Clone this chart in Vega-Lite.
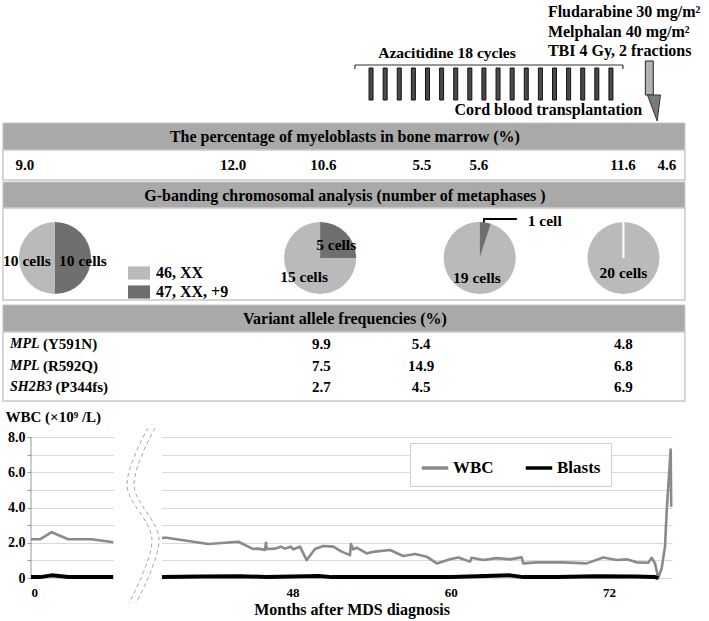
{
  "$schema": "https://vega.github.io/schema/vega-lite/v6.json",
  "width": 641,
  "height": 578,
  "autosize": {"type": "none"},
  "padding": {"left": 31, "top": 0, "right": 37, "bottom": 43},
  "background": "white",
  "config": {
    "view": {"stroke": null},
    "font": "Liberation Serif",
    "text": {"font": "Liberation Serif", "fontWeight": "bold", "color": "black"}
  },
  "datasets": {
    "cycles": [
      {"cycle": 1, "month": 53.96}, {"cycle": 2, "month": 55.03}, {"cycle": 3, "month": 56.1},
      {"cycle": 4, "month": 57.17}, {"cycle": 5, "month": 58.24}, {"cycle": 6, "month": 59.31},
      {"cycle": 7, "month": 60.38}, {"cycle": 8, "month": 61.45}, {"cycle": 9, "month": 62.52},
      {"cycle": 10, "month": 63.59}, {"cycle": 11, "month": 64.66}, {"cycle": 12, "month": 65.73},
      {"cycle": 13, "month": 66.8}, {"cycle": 14, "month": 67.87}, {"cycle": 15, "month": 68.94},
      {"cycle": 16, "month": 70.01}, {"cycle": 17, "month": 71.08}, {"cycle": 18, "month": 72.15}
    ],
    "myeloblasts": [
      {"month": -0.46, "pct": 9.0}, {"month": 43.5, "pct": 12.0}, {"month": 50.35, "pct": 10.6},
      {"month": 57.82, "pct": 5.5}, {"month": 62.14, "pct": 5.6}, {"month": 73.06, "pct": 11.6},
      {"month": 76.4, "pct": 4.6}
    ],
    "karyotype": [
      {"timepoint": 1, "month": 1.82, "genotype": "46, XX", "cells": 10, "label": "10 cells"},
      {"timepoint": 1, "month": 1.82, "genotype": "47, XX, +9", "cells": 10, "label": "10 cells"},
      {"timepoint": 2, "month": 50.1, "genotype": "46, XX", "cells": 15, "label": "15 cells"},
      {"timepoint": 2, "month": 50.1, "genotype": "47, XX, +9", "cells": 5, "label": "5 cells"},
      {"timepoint": 3, "month": 62.2, "genotype": "46, XX", "cells": 19, "label": "19 cells"},
      {"timepoint": 3, "month": 62.2, "genotype": "47, XX, +9", "cells": 1, "label": "1 cell"},
      {"timepoint": 4, "month": 73.1, "genotype": "46, XX", "cells": 20, "label": "20 cells"},
      {"timepoint": 4, "month": 73.1, "genotype": "47, XX, +9", "cells": 0, "label": ""}
    ],
    "variants": [
      {"variant": "MPL (Y591N)", "gene": "MPL", "change": "(Y591N)"},
      {"variant": "MPL (R592Q)", "gene": "MPL", "change": "(R592Q)"},
      {"variant": "SH2B3 (P344fs)", "gene": "SH2B3", "change": "(P344fs)"}
    ],
    "vaf": [
      {"variant": "MPL (Y591N)", "month": 50.2, "vaf": 9.9},
      {"variant": "MPL (Y591N)", "month": 57.75, "vaf": 5.4},
      {"variant": "MPL (Y591N)", "month": 73.1, "vaf": 4.8},
      {"variant": "MPL (R592Q)", "month": 50.2, "vaf": 7.5},
      {"variant": "MPL (R592Q)", "month": 57.75, "vaf": 14.9},
      {"variant": "MPL (R592Q)", "month": 73.1, "vaf": 6.8},
      {"variant": "SH2B3 (P344fs)", "month": 50.2, "vaf": 2.7},
      {"variant": "SH2B3 (P344fs)", "month": 57.75, "vaf": 4.5},
      {"variant": "SH2B3 (P344fs)", "month": 73.1, "vaf": 6.9}
    ],
    "counts": [
      {"series": "WBC", "seg": "early", "month": 0, "value": 2.2},
      {"series": "WBC", "seg": "early", "month": 0.68, "value": 2.2},
      {"series": "WBC", "seg": "early", "month": 1.57, "value": 2.6},
      {"series": "WBC", "seg": "early", "month": 2.83, "value": 2.2},
      {"series": "WBC", "seg": "early", "month": 4.6, "value": 2.2},
      {"series": "WBC", "seg": "early", "month": 6.24, "value": 2.03},
      {"series": "WBC", "seg": "late", "month": 38.1, "value": 2.29},
      {"series": "WBC", "seg": "late", "month": 38.47, "value": 2.29},
      {"series": "WBC", "seg": "late", "month": 41.62, "value": 1.93},
      {"series": "WBC", "seg": "late", "month": 43.9, "value": 2.06},
      {"series": "WBC", "seg": "late", "month": 45.0, "value": 1.65},
      {"series": "WBC", "seg": "late", "month": 45.41, "value": 1.67},
      {"series": "WBC", "seg": "late", "month": 45.92, "value": 1.59},
      {"series": "WBC", "seg": "late", "month": 45.99, "value": 2.0},
      {"series": "WBC", "seg": "late", "month": 46.05, "value": 1.65},
      {"series": "WBC", "seg": "late", "month": 46.68, "value": 1.67},
      {"series": "WBC", "seg": "late", "month": 47.11, "value": 1.78},
      {"series": "WBC", "seg": "late", "month": 47.44, "value": 1.67},
      {"series": "WBC", "seg": "late", "month": 47.87, "value": 1.78},
      {"series": "WBC", "seg": "late", "month": 48.06, "value": 1.63},
      {"series": "WBC", "seg": "late", "month": 48.57, "value": 1.78},
      {"series": "WBC", "seg": "late", "month": 49.08, "value": 1.02},
      {"series": "WBC", "seg": "late", "month": 49.71, "value": 1.65},
      {"series": "WBC", "seg": "late", "month": 50.34, "value": 1.82},
      {"series": "WBC", "seg": "late", "month": 51.1, "value": 1.78},
      {"series": "WBC", "seg": "late", "month": 51.73, "value": 1.5},
      {"series": "WBC", "seg": "late", "month": 52.36, "value": 1.3},
      {"series": "WBC", "seg": "late", "month": 52.44, "value": 1.93},
      {"series": "WBC", "seg": "late", "month": 52.61, "value": 1.63},
      {"series": "WBC", "seg": "late", "month": 52.87, "value": 1.72},
      {"series": "WBC", "seg": "late", "month": 53.63, "value": 1.4},
      {"series": "WBC", "seg": "late", "month": 54.26, "value": 1.5},
      {"series": "WBC", "seg": "late", "month": 55.4, "value": 1.59},
      {"series": "WBC", "seg": "late", "month": 56.4, "value": 1.25},
      {"series": "WBC", "seg": "late", "month": 57.29, "value": 1.36},
      {"series": "WBC", "seg": "late", "month": 58.18, "value": 1.21},
      {"series": "WBC", "seg": "late", "month": 58.94, "value": 0.83},
      {"series": "WBC", "seg": "late", "month": 59.95, "value": 1.06},
      {"series": "WBC", "seg": "late", "month": 60.58, "value": 1.17},
      {"series": "WBC", "seg": "late", "month": 61.46, "value": 0.93},
      {"series": "WBC", "seg": "late", "month": 61.59, "value": 1.15},
      {"series": "WBC", "seg": "late", "month": 62.47, "value": 1.02},
      {"series": "WBC", "seg": "late", "month": 63.49, "value": 1.13},
      {"series": "WBC", "seg": "late", "month": 64.49, "value": 1.06},
      {"series": "WBC", "seg": "late", "month": 65.38, "value": 1.17},
      {"series": "WBC", "seg": "late", "month": 65.5, "value": 0.83},
      {"series": "WBC", "seg": "late", "month": 66.52, "value": 0.89},
      {"series": "WBC", "seg": "late", "month": 68.54, "value": 0.89},
      {"series": "WBC", "seg": "late", "month": 70.31, "value": 0.83},
      {"series": "WBC", "seg": "late", "month": 71.57, "value": 1.17},
      {"series": "WBC", "seg": "late", "month": 72.59, "value": 1.02},
      {"series": "WBC", "seg": "late", "month": 73.35, "value": 1.06},
      {"series": "WBC", "seg": "late", "month": 74.1, "value": 0.89},
      {"series": "WBC", "seg": "late", "month": 74.98, "value": 0.87},
      {"series": "WBC", "seg": "late", "month": 75.24, "value": 1.15},
      {"series": "WBC", "seg": "late", "month": 75.49, "value": 0.83},
      {"series": "WBC", "seg": "late", "month": 75.74, "value": 0.0},
      {"series": "WBC", "seg": "late", "month": 76.0, "value": 0.57},
      {"series": "WBC", "seg": "late", "month": 76.25, "value": 1.78},
      {"series": "WBC", "seg": "late", "month": 76.38, "value": 3.86},
      {"series": "WBC", "seg": "late", "month": 76.68, "value": 7.3},
      {"series": "WBC", "seg": "late", "month": 76.72, "value": 4.05},
      {"series": "Blasts", "seg": "early", "month": 0, "value": 0.05},
      {"series": "Blasts", "seg": "early", "month": 0.68, "value": 0.05},
      {"series": "Blasts", "seg": "early", "month": 1.57, "value": 0.15},
      {"series": "Blasts", "seg": "early", "month": 2.83, "value": 0.06},
      {"series": "Blasts", "seg": "early", "month": 4.6, "value": 0.05},
      {"series": "Blasts", "seg": "early", "month": 6.24, "value": 0.05},
      {"series": "Blasts", "seg": "late", "month": 38.1, "value": 0.05},
      {"series": "Blasts", "seg": "late", "month": 41.0, "value": 0.08},
      {"series": "Blasts", "seg": "late", "month": 44.0, "value": 0.1},
      {"series": "Blasts", "seg": "late", "month": 46.0, "value": 0.06},
      {"series": "Blasts", "seg": "late", "month": 48.0, "value": 0.08},
      {"series": "Blasts", "seg": "late", "month": 50.0, "value": 0.12},
      {"series": "Blasts", "seg": "late", "month": 51.0, "value": 0.05},
      {"series": "Blasts", "seg": "late", "month": 54.0, "value": 0.05},
      {"series": "Blasts", "seg": "late", "month": 57.0, "value": 0.06},
      {"series": "Blasts", "seg": "late", "month": 60.0, "value": 0.05},
      {"series": "Blasts", "seg": "late", "month": 62.0, "value": 0.1},
      {"series": "Blasts", "seg": "late", "month": 64.5, "value": 0.15},
      {"series": "Blasts", "seg": "late", "month": 65.5, "value": 0.05},
      {"series": "Blasts", "seg": "late", "month": 68.0, "value": 0.06},
      {"series": "Blasts", "seg": "late", "month": 71.0, "value": 0.1},
      {"series": "Blasts", "seg": "late", "month": 74.0, "value": 0.08},
      {"series": "Blasts", "seg": "late", "month": 75.5, "value": 0.05},
      {"series": "Blasts", "seg": "late", "month": 75.74, "value": 0.0}
    ],
    "breakmarks": [
      {"curve": "a", "k": 1, "month": 28.83, "value": 8.52},
      {"curve": "a", "k": 2, "month": 14.9, "value": 5.28},
      {"curve": "a", "k": 3, "month": 31.48, "value": 2.16},
      {"curve": "a", "k": 4, "month": 16.24, "value": -1.42},
      {"curve": "b", "k": 1, "month": 33.47, "value": 8.52},
      {"curve": "b", "k": 2, "month": 19.55, "value": 5.28},
      {"curve": "b", "k": 3, "month": 36.12, "value": 2.16},
      {"curve": "b", "k": 4, "month": 20.88, "value": -1.42}
    ]
  },
  "resolve": {"scale": {"y": "independent"}, "axis": {"y": "independent"}},
  "layer": [
    {
      "layer": [
        {
          "data": {"values": [{"regimen": ["Fludarabine 30 mg/m²", "Melphalan 40 mg/m²", "TBI 4 Gy, 2 fractions"]}]},
          "mark": {"type": "text", "align": "left", "baseline": "middle", "fontSize": 16, "lineHeight": 19.5},
          "encoding": {
            "x": {"datum": 67.37, "type": "quantitative"},
            "y": {"datum": 12, "type": "quantitative", "axis": null, "scale": {"domain": [0, 578], "reverse": true, "nice": false, "zero": false, "padding": 0}},
            "text": {"field": "regimen", "type": "nominal"}
          }
        },
        {
          "data": {"values": [{"therapy": "Azacitidine 18 cycles"}]},
          "mark": {"type": "text", "baseline": "middle", "fontSize": 15.6},
          "encoding": {
            "x": {"datum": 59.72, "type": "quantitative"},
            "y": {"datum": 53, "type": "quantitative", "axis": null},
            "text": {"field": "therapy", "type": "nominal"}
          }
        },
        {
          "data": {"values": [{"part": "bracket"}]},
          "mark": {"type": "rule", "stroke": "#333333", "strokeWidth": 1.2},
          "encoding": {
            "x": {"datum": 52.74, "type": "quantitative"},
            "x2": {"datum": 73.06},
            "y": {"datum": 65, "type": "quantitative", "axis": null}
          }
        },
        {
          "data": {"values": [{"part": "bracket start"}]},
          "mark": {"type": "rule", "stroke": "#333333", "strokeWidth": 1.2},
          "encoding": {
            "x": {"datum": 52.74, "type": "quantitative"},
            "y": {"datum": 65, "type": "quantitative", "axis": null},
            "y2": {"datum": 69}
          }
        },
        {
          "data": {"values": [{"part": "bracket end"}]},
          "mark": {"type": "rule", "stroke": "#333333", "strokeWidth": 1.2},
          "encoding": {
            "x": {"datum": 73.06, "type": "quantitative"},
            "y": {"datum": 65, "type": "quantitative", "axis": null},
            "y2": {"datum": 69}
          }
        },
        {
          "data": {"name": "cycles"},
          "mark": {"type": "bar", "orient": "vertical", "width": 4, "fill": "#4a4a4a", "stroke": "#111111", "strokeWidth": 1},
          "encoding": {
            "x": {"field": "month", "type": "quantitative", "stack": null},
            "y": {"datum": 68, "type": "quantitative", "axis": null},
            "y2": {"datum": 100}
          }
        },
        {
          "data": {"values": [{"part": "conditioning"}]},
          "mark": {"type": "rect", "fill": "#b3b3b3", "stroke": "#222222", "strokeWidth": 1},
          "encoding": {
            "x": {"datum": 74.76, "type": "quantitative"},
            "x2": {"datum": 75.36},
            "y": {"datum": 61, "type": "quantitative", "axis": null},
            "y2": {"datum": 95}
          }
        },
        {
          "data": {"values": [{"part": "transplant arrow"}]},
          "mark": {"type": "point", "shape": "M-0.5,-1L0.5,-1L0.25,1Z", "size": 676, "filled": true, "fill": "#7a7a7a", "stroke": "#333333", "strokeWidth": 1, "opacity": 1},
          "encoding": {
            "x": {"datum": 75.41, "type": "quantitative"},
            "y": {"datum": 108, "type": "quantitative", "axis": null}
          }
        },
        {
          "data": {"values": [{"event": "Cord blood transplantation"}]},
          "mark": {"type": "text", "baseline": "middle", "fontSize": 16},
          "encoding": {
            "x": {"datum": 67.4, "type": "quantitative"},
            "y": {"datum": 110, "type": "quantitative", "axis": null},
            "text": {"field": "event", "type": "nominal"}
          }
        },
        {
          "data": {"values": [{"part": "banner"}]},
          "mark": {"type": "rect", "fill": "#a9a9a9", "stroke": "#c6c6c6", "strokeWidth": 1},
          "encoding": {
            "x": {"datum": -2.13, "type": "quantitative"},
            "x2": {"datum": 77.76},
            "y": {"datum": 123, "type": "quantitative", "axis": null},
            "y2": {"datum": 150}
          }
        },
        {
          "data": {"values": [{"part": "box"}]},
          "mark": {"type": "rect", "fill": "white", "stroke": "#c8c8c8", "strokeWidth": 1.5},
          "encoding": {
            "x": {"datum": -2.13, "type": "quantitative"},
            "x2": {"datum": 77.76},
            "y": {"datum": 150, "type": "quantitative", "axis": null},
            "y2": {"datum": 180}
          }
        },
        {
          "data": {"values": [{"title": "The percentage of myeloblasts in bone marrow (%)"}]},
          "mark": {"type": "text", "baseline": "middle", "fontSize": 16},
          "encoding": {
            "x": {"datum": 51.98, "type": "quantitative"},
            "y": {"datum": 137, "type": "quantitative", "axis": null},
            "text": {"field": "title", "type": "nominal"}
          }
        },
        {
          "data": {"name": "myeloblasts"},
          "mark": {"type": "text", "baseline": "middle", "fontSize": 15},
          "encoding": {
            "x": {"field": "month", "type": "quantitative"},
            "y": {"datum": 165, "type": "quantitative", "axis": null},
            "text": {"field": "pct", "type": "quantitative", "format": ".1f"}
          }
        },
        {
          "data": {"values": [{"part": "banner"}]},
          "mark": {"type": "rect", "fill": "#a9a9a9", "stroke": "#c6c6c6", "strokeWidth": 1},
          "encoding": {
            "x": {"datum": -2.13, "type": "quantitative"},
            "x2": {"datum": 77.76},
            "y": {"datum": 182, "type": "quantitative", "axis": null},
            "y2": {"datum": 208}
          }
        },
        {
          "data": {"values": [{"part": "box"}]},
          "mark": {"type": "rect", "fill": "white", "stroke": "#c8c8c8", "strokeWidth": 1.5},
          "encoding": {
            "x": {"datum": -2.13, "type": "quantitative"},
            "x2": {"datum": 77.76},
            "y": {"datum": 208, "type": "quantitative", "axis": null},
            "y2": {"datum": 300}
          }
        },
        {
          "data": {"values": [{"title": "G-banding chromosomal analysis (number of metaphases )"}]},
          "mark": {"type": "text", "baseline": "middle", "fontSize": 16},
          "encoding": {
            "x": {"datum": 51.98, "type": "quantitative"},
            "y": {"datum": 196, "type": "quantitative", "axis": null},
            "text": {"field": "title", "type": "nominal"}
          }
        },
        {
          "data": {"values": [{"part": "banner"}]},
          "mark": {"type": "rect", "fill": "#a9a9a9", "stroke": "#c6c6c6", "strokeWidth": 1},
          "encoding": {
            "x": {"datum": -2.13, "type": "quantitative"},
            "x2": {"datum": 77.76},
            "y": {"datum": 305, "type": "quantitative", "axis": null},
            "y2": {"datum": 332}
          }
        },
        {
          "data": {"values": [{"part": "box"}]},
          "mark": {"type": "rect", "fill": "white", "stroke": "#c8c8c8", "strokeWidth": 1.5},
          "encoding": {
            "x": {"datum": -2.13, "type": "quantitative"},
            "x2": {"datum": 77.76},
            "y": {"datum": 332, "type": "quantitative", "axis": null},
            "y2": {"datum": 401}
          }
        },
        {
          "data": {"values": [{"title": "Variant allele frequencies (%)"}]},
          "mark": {"type": "text", "baseline": "middle", "fontSize": 16},
          "encoding": {
            "x": {"datum": 51.98, "type": "quantitative"},
            "y": {"datum": 319, "type": "quantitative", "axis": null},
            "text": {"field": "title", "type": "nominal"}
          }
        },
        {
          "data": {"name": "karyotype"},
          "transform": [{"filter": "datum.cells == 1"}],
          "mark": {"type": "text", "baseline": "middle", "fontSize": 15.5},
          "encoding": {
            "x": {"datum": 67.13, "type": "quantitative"},
            "y": {"datum": 221, "type": "quantitative", "axis": null},
            "text": {"field": "label", "type": "nominal"}
          }
        },
        {
          "data": {"values": [{"part": "leader"}]},
          "mark": {"type": "rule", "stroke": "black", "strokeWidth": 1.8},
          "encoding": {
            "x": {"datum": 62.52, "type": "quantitative"},
            "y": {"datum": 219, "type": "quantitative", "axis": null},
            "y2": {"datum": 229}
          }
        },
        {
          "data": {"values": [{"part": "leader"}]},
          "mark": {"type": "rule", "stroke": "black", "strokeWidth": 1.8},
          "encoding": {
            "x": {"datum": 62.45, "type": "quantitative"},
            "x2": {"datum": 65.02},
            "y": {"datum": 219, "type": "quantitative", "axis": null}
          }
        }
      ]
    },
    {
      "data": {"name": "karyotype"},
      "resolve": {"scale": {"radius": "independent"}},
      "encoding": {
        "x": {"field": "month", "type": "quantitative"},
        "y": {"field": "timepoint", "type": "quantitative", "axis": null, "scale": {"type": "linear", "domain": [1, 4], "range": [258, 258], "nice": false, "zero": false}},
        "theta": {"field": "cells", "type": "quantitative", "stack": true, "scale": {"domain": [0, 20]}},
        "order": {"field": "genotype", "type": "ordinal", "sort": "descending"}
      },
      "layer": [
        {
          "mark": {"type": "arc", "stroke": "white"},
          "encoding": {
            "radius": {"field": "timepoint", "type": "quantitative", "scale": {"type": "linear", "domain": [1, 4], "range": [36, 36], "nice": false, "zero": false}},
            "radius2": {"value": 0},
            "fill": {
              "field": "genotype", "type": "nominal",
              "scale": {"domain": ["46, XX", "47, XX, +9"], "range": ["#bababa", "#6f6f6f"]},
              "legend": {
                "title": null, "orient": "none", "legendX": 97, "legendY": 262, "direction": "vertical",
                "symbolType": "M-1,-0.6H1V0.6H-1Z", "symbolSize": 484, "symbolStrokeWidth": 0, "symbolOpacity": 1,
                "labelFont": "Liberation Serif", "labelFontWeight": "bold", "labelFontSize": 16, "labelColor": "black",
                "labelOffset": 6, "rowPadding": 0, "padding": 0
              }
            },
            "strokeWidth": {"condition": {"test": "datum.cells == 0", "value": 2}, "value": 0}
          }
        },
        {
          "mark": {"type": "text", "fontSize": 15.5, "dy": 3},
          "encoding": {
            "radius": {"field": "timepoint", "type": "quantitative", "scale": {"type": "linear", "domain": [1, 4], "range": [28, 12], "nice": false, "zero": false}},
            "text": {"condition": {"test": "datum.cells > 1", "field": "label", "type": "nominal"}, "value": ""}
          }
        }
      ]
    },
    {
      "encoding": {
        "y": {"field": "variant", "type": "nominal", "axis": null, "scale": {"type": "point", "domain": ["MPL (Y591N)", "MPL (R592Q)", "SH2B3 (P344fs)"], "range": [344, 387], "padding": 0}}
      },
      "layer": [
        {
          "data": {"name": "vaf"},
          "mark": {"type": "text", "baseline": "middle", "fontSize": 15},
          "encoding": {
            "x": {"field": "month", "type": "quantitative"},
            "text": {"field": "vaf", "type": "quantitative", "format": ".1f"}
          }
        },
        {
          "data": {"name": "variants"},
          "mark": {"type": "text", "align": "left", "baseline": "middle", "fontSize": 14, "fontStyle": "italic"},
          "encoding": {
            "x": {"datum": -1.59, "type": "quantitative"},
            "text": {"field": "gene", "type": "nominal"}
          }
        },
        {
          "data": {"name": "variants"},
          "transform": [{"filter": "datum.gene == 'MPL'"}],
          "mark": {"type": "text", "align": "left", "baseline": "middle", "fontSize": 15},
          "encoding": {
            "x": {"datum": 0.91, "type": "quantitative"},
            "text": {"field": "change", "type": "nominal"}
          }
        },
        {
          "data": {"name": "variants"},
          "transform": [{"filter": "datum.gene == 'SH2B3'"}],
          "mark": {"type": "text", "align": "left", "baseline": "middle", "fontSize": 15},
          "encoding": {
            "x": {"datum": 1.86, "type": "quantitative"},
            "text": {"field": "change", "type": "nominal"}
          }
        }
      ]
    },
    {
      "layer": [
        {
          "data": {"values": [{"part": "axis break gap"}]},
          "mark": {"type": "rect", "fill": "white"},
          "encoding": {
            "x": {"datum": 6.3, "type": "quantitative"},
            "x2": {"datum": 38.11},
            "y": {"datum": -0.4, "type": "quantitative"},
            "y2": {"datum": 8.4}
          }
        },
        {
          "data": {"values": [{"part": "y axis line"}]},
          "mark": {"type": "rule", "stroke": "#9a9a9a", "strokeWidth": 1},
          "encoding": {
            "x": {"datum": 0, "type": "quantitative"},
            "y": {"datum": 0, "type": "quantitative"},
            "y2": {"datum": 8}
          }
        },
        {
          "data": {"name": "counts"},
          "mark": {"type": "line", "strokeJoin": "round"},
          "encoding": {
            "x": {
              "field": "month", "type": "quantitative",
              "scale": {"type": "linear", "domain": [0, 6.3, 38.11, 76.78], "range": [0, 83, 131, 641], "nice": false, "zero": false, "padding": 0},
              "axis": {
                "values": [0, 48, 60, 72], "format": "d", "grid": false, "domain": false, "ticks": false,
                "labelFont": "Liberation Serif", "labelFontWeight": "bold", "labelFontSize": 13, "labelColor": "black", "labelPadding": 8,
                "title": "Months after MDS diagnosis", "titleFont": "Liberation Serif", "titleFontWeight": "bold", "titleFontSize": 16, "titleColor": "black", "titlePadding": 2
              }
            },
            "y": {
              "field": "value", "type": "quantitative",
              "scale": {"domain": [0, 32.84], "nice": false, "zero": false, "padding": 0},
              "axis": {
                "orient": "left", "values": [0, 1, 2, 3, 4, 5, 6, 7, 8],
                "labelExpr": "datum.value == 0 ? '0' : (datum.value % 2 == 0 ? format(datum.value, '.1f') : '')",
                "grid": true, "gridColor": "#d9d9d9", "gridWidth": 1, "domain": false,
                "ticks": true, "tickColor": "#9a9a9a", "tickSize": 4,
                "labelFont": "Liberation Serif", "labelFontWeight": "bold", "labelFontSize": 14, "labelColor": "black", "labelPadding": 2,
                "title": "WBC (×10⁹ /L)", "titleAngle": 0, "titleAlign": "left", "titleBaseline": "middle", "titleX": -26, "titleY": 416,
                "titleFont": "Liberation Serif", "titleFontWeight": "bold", "titleFontSize": 15, "titleColor": "black"
              }
            },
            "stroke": {
              "field": "series", "type": "nominal",
              "scale": {"domain": ["WBC", "Blasts"], "range": ["#8a8a8a", "#000000"]},
              "legend": {
                "title": null, "orient": "none", "legendX": 379, "legendY": 443, "direction": "horizontal",
                "fillColor": "white", "strokeColor": "#cfcfcf", "padding": 10,
                "symbolType": "stroke", "symbolSize": 700, "symbolStrokeWidth": 3.5,
                "labelFont": "Liberation Serif", "labelFontWeight": "bold", "labelFontSize": 17, "labelColor": "black",
                "labelOffset": 3, "columnPadding": 24
              }
            },
            "strokeWidth": {"condition": {"test": "datum.series == 'Blasts'", "value": 4}, "value": 2.6},
            "detail": {"field": "seg", "type": "nominal"}
          }
        },
        {
          "data": {"name": "breakmarks"},
          "mark": {"type": "line", "interpolate": "cardinal", "stroke": "#a6a6a6", "strokeWidth": 1, "strokeDash": [4, 3]},
          "encoding": {
            "x": {"field": "month", "type": "quantitative"},
            "y": {"field": "value", "type": "quantitative"},
            "detail": {"field": "curve", "type": "nominal"},
            "order": {"field": "k", "type": "quantitative"}
          }
        }
      ]
    }
  ]
}
